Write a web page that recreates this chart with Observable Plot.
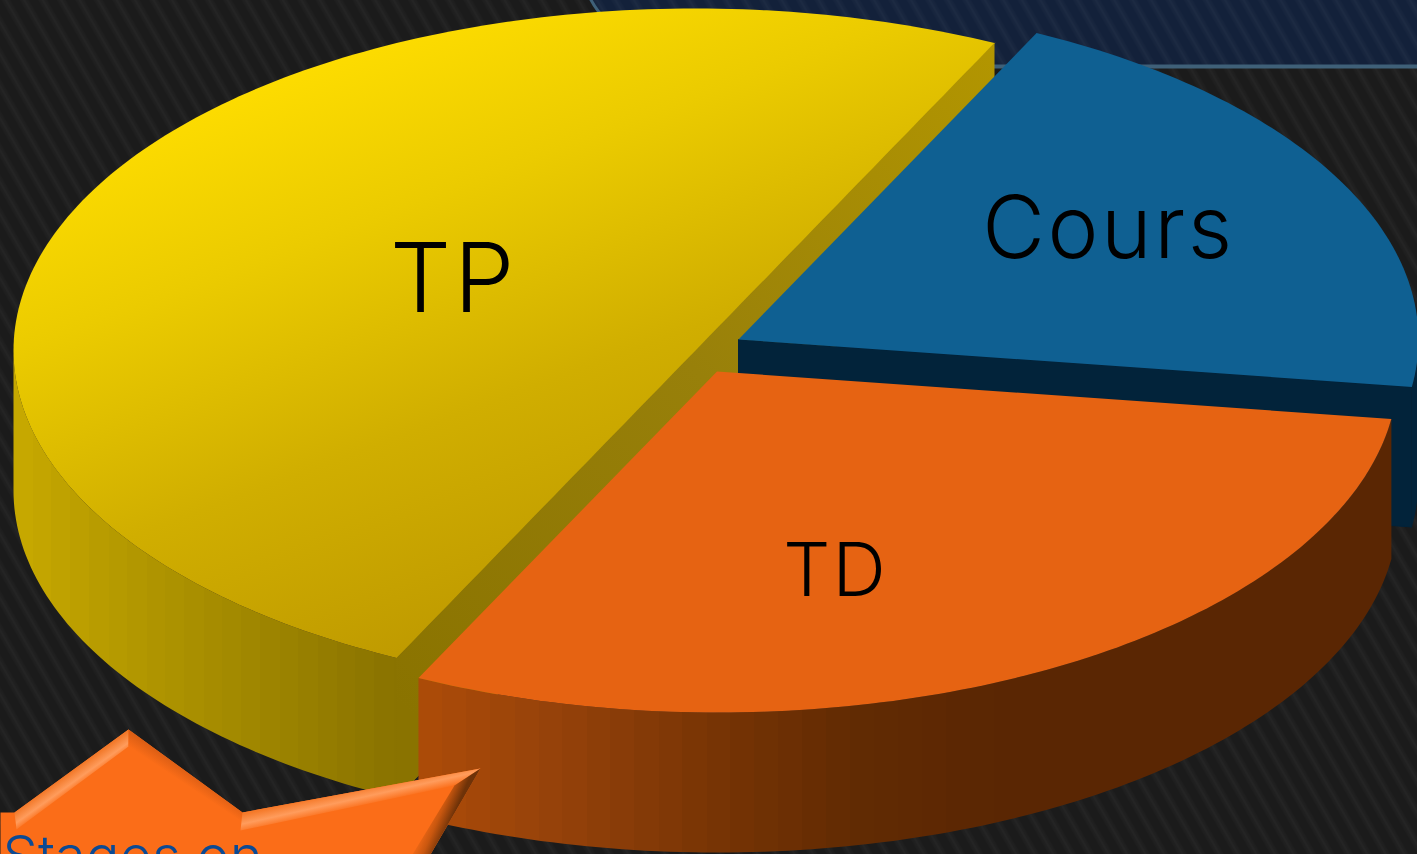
<!DOCTYPE html>
<html>
<head>
<meta charset="utf-8">
<script src="https://cdn.jsdelivr.net/npm/d3@7"></script>
<script src="https://cdn.jsdelivr.net/npm/@observablehq/plot@0.6"></script>
<style>
html,body{margin:0;padding:0;background:#1c1c1c;overflow:hidden}
svg{display:block}
</style>
</head>
<body>
<div id="chart"></div>
<script>
// Data
const categories = ["Cours", "TD", "TP"];
const shares = [20, 30, 50];
const sliceLabels = ["Cours", "TD", "TP"];
const badgeLabels = ["Stages on"];

// Layout
const W = 1417, H = 854, depth = 140, startAngle = 26;
const geometry = {
  Cours: {cx: 738, cy: 339, a: 680, b: 341, topFill: "#0f6092", wallFill: "#02233a", faceFill: "#02233a", label: [1108, 230], size: 86},
  TD:    {cx: 716.5, cy: 371, a: 681, b: 341, topFill: "#e66312", wallFill: "url(#tdWall)", label: [835, 572], size: 74},
  TP:    {cx: 695, cy: 350, a: 682, b: 342, topFill: "url(#tpTop)", wallFill: "url(#tpWall)", faceFill: "url(#tpFace)", label: [453, 281], size: 96}
};

const total = d3.sum(shares);
const ends = Array.from(d3.cumsum(shares), (s) => startAngle + (s / total) * 360);
const slices = categories.map((name, i) => ({
  name, value: shares[i], start: i ? ends[i - 1] : startAngle, end: ends[i], ...geometry[name]
}));

const rad = (deg) => (deg * Math.PI) / 180;
const pt = (s, deg, dy = 0) => [s.cx + s.a * Math.sin(rad(deg)), s.cy - s.b * Math.cos(rad(deg)) + dy];
const arcPoints = (s, from, to, dy = 0) => {
  const n = Math.max(2, Math.ceil(Math.abs(to - from)));
  return d3.range(n + 1).map((i) => pt(s, from + ((to - from) * i) / n, dy));
};
const shape = (pts, fill, extra = {}) =>
  Plot.line(pts, {x: (d) => d[0], y: (d) => d[1], fill, stroke: "none", ...extra});

// Visible outer wall of a slice (front half of the ellipse only)
const wallMark = (s) => {
  const from = Math.max(s.start, 90), to = Math.min(s.end, 270);
  return shape([...arcPoints(s, from, to), ...arcPoints(s, to, from, depth)], s.wallFill);
};
// Cut face running between two rim points of the slice, with a hairline to hide seams
const faceMark = (s, fromDeg, toDeg) => {
  const p = toDeg === undefined ? [s.cx, s.cy] : pt(s, toDeg), q = pt(s, fromDeg);
  return shape([q, p, [p[0], p[1] + depth], [q[0], q[1] + depth]], s.faceFill, {stroke: s.faceFill, strokeWidth: 1});
};
const topMark = (s) => shape([[s.cx, s.cy], ...arcPoints(s, s.start, s.end)], s.topFill);

const [cours, td, tp] = slices;

// Defs and backdrop
function backdrop() {
  const svg = d3.create("svg:g");
  const defs = svg.append("defs");
  const grad = (id, x1, y1, x2, y2, stops) => {
    const g = defs.append("linearGradient").attr("id", id).attr("gradientUnits", "userSpaceOnUse")
      .attr("x1", x1).attr("y1", y1).attr("x2", x2).attr("y2", y2);
    stops.forEach(([o, c]) => g.append("stop").attr("offset", o).attr("stop-color", c));
  };
  const bands = (id, x0, x1, step, keyX, keyC) => {
    const col = d3.scaleLinear().domain(keyX).range(keyC).clamp(true);
    const stops = [];
    for (let x = x0; x < x1; x += step) {
      const c = col(x + step / 2);
      stops.push([(x - x0) / (x1 - x0), c], [Math.min(1, (x + step - x0) / (x1 - x0)), c]);
    }
    grad(id, x0, 0, x1, 0, stops);
  };
  grad("tpTop", 52, 141, 266, 714, [[0, "#ffde00"], [0.3, "#ebcb00"], [0.65, "#d0ae00"], [1, "#bf9a00"]]);
  grad("tpFace", 995, 40, 396, 700, [[0, "#b39600"], [0.5, "#98800a"], [1, "#8a7300"]]);
  bands("tpWall", 13, 420, 19, [13, 100, 250, 390], ["#c8aa00", "#b89c00", "#a08700", "#8a7300"]);
  bands("tdWall", 418, 1392, 24, [418, 550, 700, 850, 1000], ["#ad4c08", "#96420a", "#7a3505", "#622b03", "#5a2603"]);
  grad("hiA", 14, 812, 24, 826, [[0, "#f2792a"], [0.55, "#ff9c5c"], [1, "#fb6d18"]]);
  grad("hiB", 350, 790, 354, 808, [[0, "#f57a2a"], [0.5, "#ff9c5c"], [1, "#fb6d18"]]);
  grad("shadeA", 190, 770, 182, 782, [[0, "#d75c14"], [1, "#fb6d18"]]);
  grad("shadeB", 455, 810, 432, 800, [[0, "#6e3208"], [0.5, "#c9570f"], [1, "#fb6d18"]]);

  const pattern = defs.append("pattern").attr("id", "hatch").attr("patternUnits", "userSpaceOnUse")
    .attr("width", 16).attr("height", 16).attr("patternTransform", "rotate(-30)");
  [[1, 8, 0.01], [2.5, 5, 0.012], [4, 2, 0.014]].forEach(([x, w, o]) =>
    pattern.append("rect").attr("x", x).attr("width", w).attr("height", 16).attr("fill", "#fff").attr("fill-opacity", o));

  svg.append("rect").attr("width", W).attr("height", H).attr("fill", "#1b1b1b");
  svg.append("path").attr("d", "M590,-2Q598,14 612,20Q622,66 650,66H1420V-2Z").attr("fill", "#13213a");
  svg.append("rect").attr("width", W).attr("height", H).attr("fill", "url(#hatch)");
  svg.append("path").attr("d", "M590,-2Q596,10 606,20").attr("fill", "none").attr("stroke", "#3f6078").attr("stroke-width", 3);
  svg.append("path").attr("d", "M640,66.5H1420").attr("fill", "none").attr("stroke", "#3f6078").attr("stroke-width", 4);
  return svg.node();
}

const chart = Plot.plot({
  width: W, height: H,
  margin: 0,
  x: {domain: [0, W], range: [0, W], axis: null},
  y: {domain: [0, H], range: [0, H], axis: null},
  style: {background: "transparent", overflow: "hidden"},
  marks: [
    backdrop,
    // TP: the cut is a straight diameter, so its face is one polygon
    wallMark(tp), faceMark(tp, tp.end, tp.start), topMark(tp),
    // Cours
    wallMark(cours), faceMark(cours, cours.end), topMark(cours),
    // TD
    wallMark(td), topMark(td),
    // Labels
    ...slices.map((s, i) => Plot.text([sliceLabels[i]], {
      x: () => s.label[0], y: () => s.label[1], text: (d) => d,
      fontSize: s.size, fontWeight: 300, fontFamily: "Inter, Lato, sans-serif", fill: "#000", textAnchor: "middle", lineAnchor: "middle"
    })),
    // Badge
    shape([[0, 812], [14, 812], [128, 729], [242, 812], [480, 768], [430, 854], [0, 854]], "#fb6d18"),
    shape([[14, 812], [128, 729], [128, 746], [16, 829]], "url(#hiA)"),
    shape([[128, 729], [242, 812], [240, 826], [128, 746]], "url(#shadeA)"),
    shape([[242, 812], [480, 768], [454, 785], [240, 830]], "url(#hiB)"),
    shape([[480, 768], [430, 854], [412, 854], [454, 785]], "url(#shadeB)"),
    Plot.text(badgeLabels, {
      x: () => 2, y: () => 858, text: (d) => d,
      fontSize: 56, fontWeight: 300, fontFamily: "Inter, Lato, sans-serif", fill: "#0b4a94", textAnchor: "start", lineAnchor: "middle"
    })
  ]
});
d3.select(chart).selectAll("text").filter(function () { return !badgeLabels.includes(this.textContent); }).style("letter-spacing", "0.03em");
document.getElementById("chart").append(chart);
</script>
</body>
</html>
